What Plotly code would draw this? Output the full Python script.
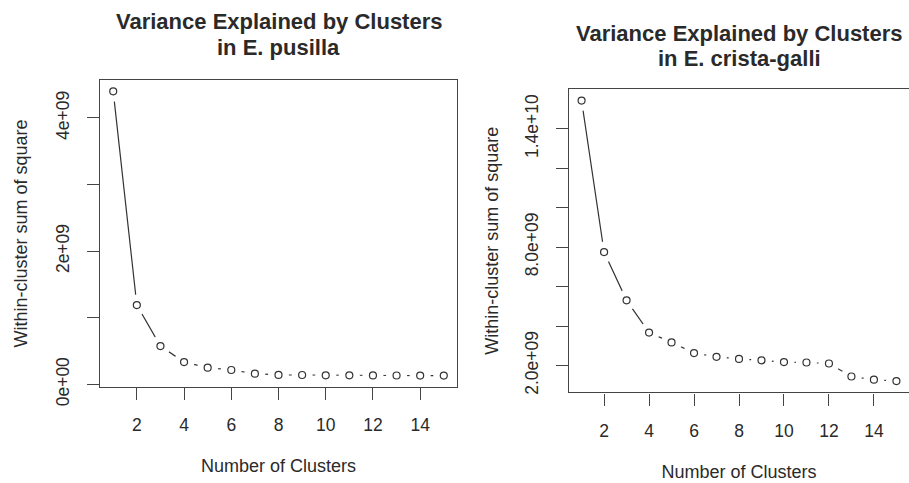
import plotly.graph_objects as go

clusters = list(range(1, 16))
pusilla_wss = [4.40e9, 1.19e9, 0.574e9, 0.334e9, 0.250e9, 0.215e9, 0.160e9, 0.142e9,
               0.140e9, 0.136e9, 0.135e9, 0.134e9, 0.133e9, 0.132e9, 0.131e9]
crista_wss = [15.43e9, 7.75e9, 5.30e9, 3.67e9, 3.17e9, 2.63e9, 2.44e9, 2.33e9,
              2.26e9, 2.17e9, 2.15e9, 2.10e9, 1.44e9, 1.28e9, 1.21e9]

x_ticks = [2, 4, 6, 8, 10, 12, 14]
y1_ticks = [0, 1e9, 2e9, 3e9, 4e9]
y1_text = ["0e+00", "", "2e+09", "", "4e+09"]
y2_ticks = [2e9, 4e9, 6e9, 8e9, 10e9, 12e9, 14e9]
y2_text = ["2.0e+09", "", "", "8.0e+09", "", "", "1.4e+10"]

titles = [["Variance Explained by Clusters", "in E. pusilla"],
          ["Variance Explained by Clusters", "in E. crista-galli"]]

FONT = "Liberation Sans, Arial, Helvetica, sans-serif"
INK = "#2a2a2a"
W, H = 909, 483

fig = go.Figure()

def add_series(y, xa, ya):
    fig.add_trace(go.Scatter(x=clusters, y=y, mode="lines", xaxis=xa, yaxis=ya,
                             line=dict(color="#333333", width=1.2), hoverinfo="skip"))
    fig.add_trace(go.Scatter(x=clusters, y=y, mode="markers", xaxis=xa, yaxis=ya,
                             marker=dict(symbol="circle", size=21, color="white",
                                         line=dict(width=0)), hoverinfo="skip"))
    fig.add_trace(go.Scatter(x=clusters, y=y, mode="markers", xaxis=xa, yaxis=ya,
                             marker=dict(symbol="circle-open", size=7, color="#333333",
                                         line=dict(width=1.2))))

add_series(pusilla_wss, "x", "y")
add_series(crista_wss, "x2", "y2")

# pixel boxes
L = dict(x0=100, x1=457, y0=80, y1=387)
R = dict(x0=569, x1=909, y0=89.3, y1=392.3)

def xdom(b):
    return [b["x0"] / W, min(1.0, b["x1"] / W)]

def ydom(b):
    return [(H - b["y1"]) / H, (H - b["y0"]) / H]

common_x = dict(range=[0.44, 15.56], tickvals=x_ticks, ticks="outside", ticklen=12,
                tickwidth=1.2, tickcolor="#444", showline=True, linecolor="#444",
                linewidth=1.4, mirror=True, showgrid=False, zeroline=False,
                automargin=False,
                tickfont=dict(size=17.5, color=INK, family=FONT),
                ticklabelstandoff=10,
                title=dict(text="Number of Clusters", font=dict(size=18, color=INK, family=FONT),
                           standoff=25))

def common_y(standoff):
    return dict(ticks="outside", ticklen=12, tickwidth=1.2, tickcolor="#444",
                showline=True, linecolor="#444", linewidth=1.4, mirror=True,
                showgrid=False, zeroline=False, tickangle=-90, automargin=False,
                tickfont=dict(size=17.5, color=INK, family=FONT),
                ticklabelstandoff=11,
                title=dict(text="Within-cluster sum of square",
                           font=dict(size=18, color=INK, family=FONT), standoff=standoff))

fig.update_layout(
    width=W, height=H, margin=dict(l=0, r=0, t=0, b=0, autoexpand=False),
    paper_bgcolor="white", plot_bgcolor="white", showlegend=False,
    font=dict(family=FONT, color=INK),
    xaxis=dict(domain=xdom(L), anchor="y", **common_x),
    yaxis=dict(domain=ydom(L), anchor="x", range=[-0.04e9, 4.57e9],
               tickvals=y1_ticks, ticktext=y1_text, **common_y(20)),
    xaxis2=dict(domain=xdom(R), anchor="y2", **common_x),
    yaxis2=dict(domain=ydom(R), anchor="x2", range=[0.64e9, 16.0e9],
                tickvals=y2_ticks, ticktext=y2_text, **common_y(18)),
)

# titles (two lines each)
title_pos = [(278.5, [21.7, 48]), (739, [33, 59])]
for (cx, ys), lines in zip(title_pos, titles):
    for yy, txt in zip(ys, lines):
        fig.add_annotation(text="<b>" + txt + "</b>", x=cx / W, y=1 - yy / H,
                           xref="paper", yref="paper", xanchor="center", yanchor="middle",
                           showarrow=False, font=dict(size=22, color=INK, family=FONT))

fig.write_html("out.html")
